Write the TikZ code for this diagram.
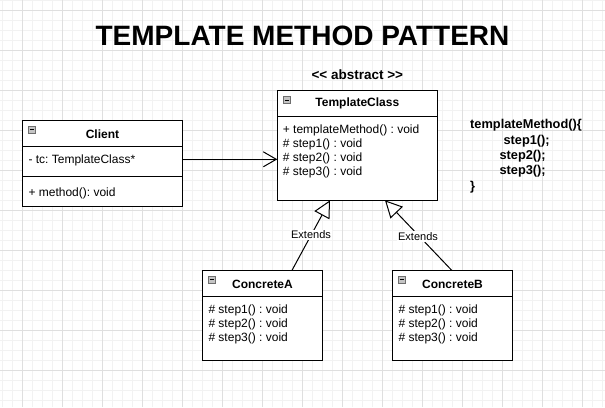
\documentclass[tikz,border=0pt]{standalone}
\usepackage{fontspec}
\setmainfont{Liberation Sans}
\usetikzlibrary{arrows.meta}
\frenchspacing
\definecolor{gridminor}{HTML}{F2F2F2}
\definecolor{gridmajor}{HTML}{DFDFDF}
\definecolor{iconfill}{HTML}{C4C4C4}
\definecolor{iconline}{HTML}{6E6E6E}
\tikzset{
  classbox/.style={draw=black, line width=1pt, anchor=north west, inner sep=0pt, outer sep=0pt, fill=white},
  member/.style={anchor=west, inner sep=0pt, font=\fontsize{12}{14}\selectfont},
  ctitle/.style={inner sep=0pt, font=\fontsize{12}{14}\selectfont\bfseries},
  codeline/.style={anchor=west, inner sep=0pt, font=\fontsize{12.8}{15}\selectfont\bfseries},
  hdricon/.style={draw=iconline, fill=iconfill, line width=0.6pt, minimum size=7pt, inner sep=0pt, anchor=north west,
    path picture={\draw[black, line width=0.8pt] ([xshift=1.5pt]path picture bounding box.west) -- ([xshift=-1.5pt]path picture bounding box.east);}},
  assoc/.style={draw=black, line width=1pt, -{Straight Barb[length=13pt, width=15pt, line width=1pt]}},
  ext/.style={draw=black, line width=1pt, -{Triangle[open, length=17pt, width=17pt, fill=white, line width=1pt]}},
  extlabel/.style={fill=white, inner sep=1pt, font=\fontsize{11}{13}\selectfont},
  sep/.style={draw=black, line width=1pt}
}
\begin{document}
\begin{tikzpicture}[x=1pt,y=-1pt]
\useasboundingbox (0,0) rectangle (605,407);
\fill[white] (0,0) rectangle (605,407);
% grid
\foreach \i in {0,...,60} \draw[gridminor, line width=0.8pt] (2.7+10*\i,0) -- (2.7+10*\i,407);
\foreach \j in {0,...,40} \draw[gridminor, line width=0.8pt] (0,10*\j) -- (605,10*\j);
\foreach \i in {-1,...,15} \draw[gridmajor, line width=0.8pt] (22.7+40*\i,0) -- (22.7+40*\i,407);
\foreach \j in {0,...,10} \draw[gridmajor, line width=0.8pt] (0,10+40*\j) -- (605,10+40*\j);

% title
\node[inner sep=0pt, font=\fontsize{28}{32}\selectfont\bfseries] (title) at (302.5,36) {TEMPLATE METHOD PATTERN};
\node[inner sep=0pt, font=\fontsize{13.5}{16}\selectfont\bfseries] (stereo) at (357.3,75) {{<}{<} abstract {>}{>}};

% Client
\node[classbox, minimum width=159.6pt, minimum height=86.3pt] (client) at (22.7,120) {};
\draw[sep] ([shift={(0,26)}]client.north west) coordinate (c1a) -- (c1a -| client.east);
\draw[sep] ([shift={(0,56)}]client.north west) coordinate (c2a) -- (c2a -| client.east);
\node[hdricon] (clienticon) at ([shift={(5.5,5.5)}]client.north west) {};
\node[ctitle] (clientname) at (102.5,134) {Client};
\node[member] (clientattr) at (28.3,160.7) {- tc: TemplateClass*};
\node[member] (clientop) at (28.3,193.3) {+ method(): void};

% TemplateClass
\node[classbox, minimum width=160pt, minimum height=109.6pt] (tc) at (277.3,90.7) {};
\draw[sep] ([shift={(0,25.6)}]tc.north west) coordinate (t1a) -- (t1a -| tc.east);
\node[hdricon] (tcicon) at ([shift={(5.5,5.5)}]tc.north west) {};
\node[ctitle] (tcname) at (357.3,103.5) {TemplateClass};
\node[member] (tcm0) at (282.7,130) {+ templateMethod() : void};
\node[member] (tcm1) at (282.7,144) {\# step1() : void};
\node[member] (tcm2) at (282.7,158) {\# step2() : void};
\node[member] (tcm3) at (282.7,172) {\# step3() : void};

% ConcreteA
\node[classbox, minimum width=119.6pt, minimum height=89.7pt] (ca) at (202.7,270.3) {};
\draw[sep] ([shift={(0,25.7)}]ca.north west) coordinate (a1a) -- (a1a -| ca.east);
\node[hdricon] (caicon) at ([shift={(5.5,5.5)}]ca.north west) {};
\node[ctitle] (caname) at (262.5,284) {ConcreteA};
\node[member] (cam1) at (208.3,310) {\# step1() : void};
\node[member] (cam2) at (208.3,324) {\# step2() : void};
\node[member] (cam3) at (208.3,338) {\# step3() : void};

% ConcreteB
\node[classbox, minimum width=119.6pt, minimum height=89.7pt] (cb) at (392.7,270.3) {};
\draw[sep] ([shift={(0,25.7)}]cb.north west) coordinate (b1a) -- (b1a -| cb.east);
\node[hdricon] (cbicon) at ([shift={(5.5,5.5)}]cb.north west) {};
\node[ctitle] (cbname) at (452.5,284) {ConcreteB};
\node[member] (cbm1) at (398.3,310) {\# step1() : void};
\node[member] (cbm2) at (398.3,324) {\# step2() : void};
\node[member] (cbm3) at (398.3,338) {\# step3() : void};

% code note
\node[codeline] (code0) at (470,125) {templateMethod()\{};
\node[codeline] (code1) at (503.3,141) {step1();};
\node[codeline] (code2) at (499.3,156) {step2();};
\node[codeline] (code3) at (499.3,171) {step3();};
\node[codeline] (code4) at (470,187) {\}};

% connectors
\coordinate (assocy) at (0,159.3);
\draw[assoc] (client.east |- assocy) -- (tc.west |- assocy);

\coordinate (extAfrom) at (292,270.3);
\coordinate (extAto) at (330,200.3);
\coordinate (extBfrom) at (451.7,270.3);
\coordinate (extBto) at (385,200.3);
\draw[ext] (ca.north -| extAfrom) -- (tc.south -| extAto);
\draw[ext] (cb.north -| extBfrom) -- (tc.south -| extBto);
\node[extlabel] (extAlabel) at (311,235) {Extends};
\node[extlabel] (extBlabel) at (418,236.5) {Extends};
\end{tikzpicture}
\end{document}
